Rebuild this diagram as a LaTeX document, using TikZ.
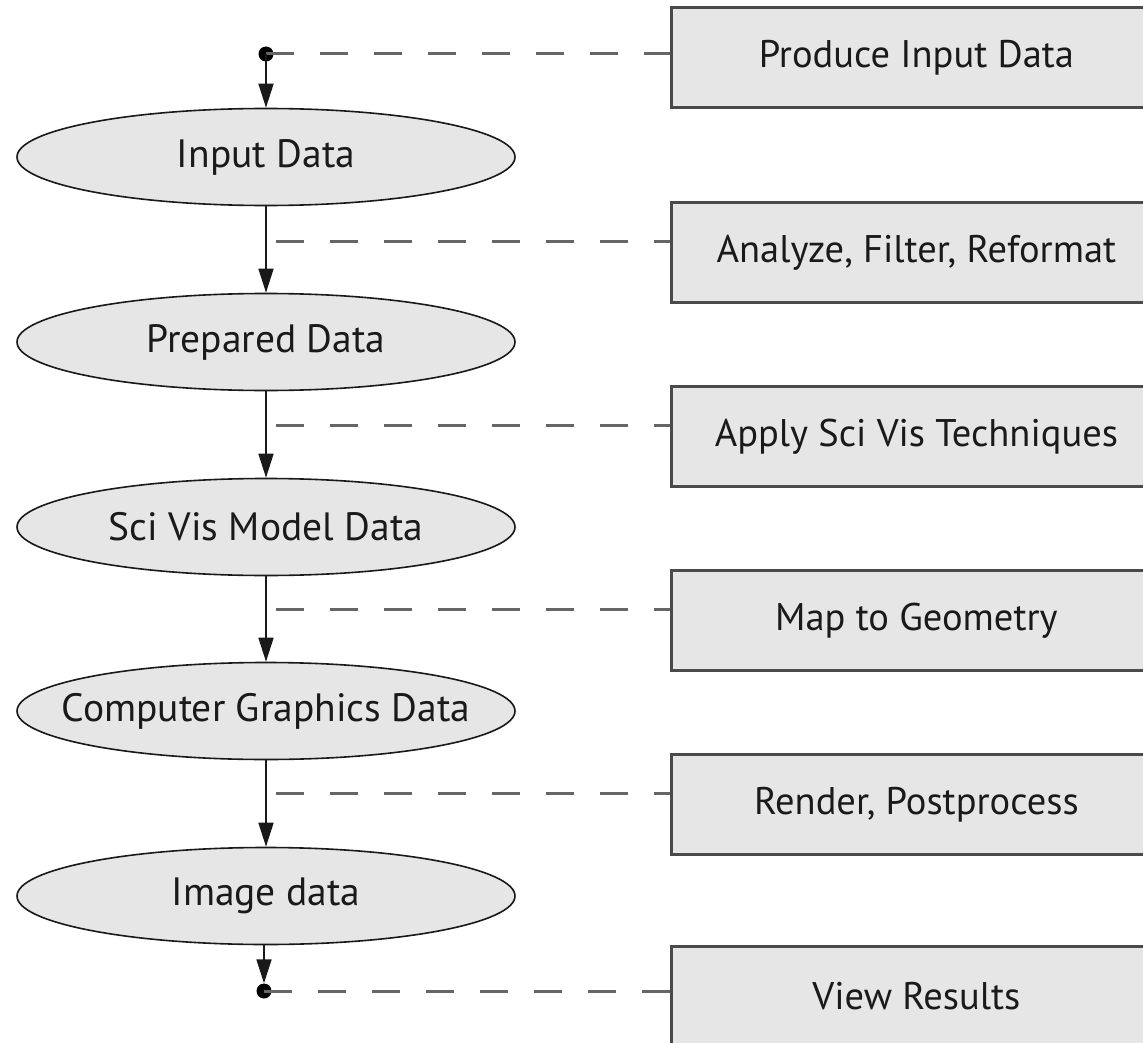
\documentclass[tikz,border=0pt]{standalone}
\usepackage{fontspec}
\setmainfont{PT Sans}
\usetikzlibrary{shapes.geometric,arrows.meta}
\definecolor{fillgray}{HTML}{E6E6E6}
\definecolor{boxline}{HTML}{4A4A4A}
\definecolor{dashcol}{HTML}{666666}
\definecolor{textcol}{HTML}{1A1A1A}
\newcommand{\ovaltext}[1]{\makebox[0pt][c]{#1}}
\newcommand{\boxtext}[1]{\makebox[470pt][c]{#1}\hspace{20pt}}
\begin{document}
\begin{tikzpicture}[x=1pt,y=-1pt,
  oval/.style={ellipse, draw=black!90, line width=1.6pt, fill=fillgray,
    minimum width=498pt, minimum height=97pt, inner sep=0pt,
    font=\fontsize{39.5}{42}\selectfont, text=textcol},
  stagebox/.style={rectangle, draw=boxline, line width=2.8pt, fill=fillgray,
    minimum width=490pt, minimum height=100pt, inner sep=0pt, anchor=west,
    font=\fontsize{38.5}{42}\selectfont, text=textcol},
  flow/.style={draw=black!90, line width=1.6pt,
    -{Triangle[length=24pt,width=15pt]}},
  dashlink/.style={draw=dashcol, line width=3pt, dash pattern=on 28pt off 26pt},
  dotn/.style={circle, fill=black, inner sep=0pt, minimum size=15pt}
]
\clip (0,0) rectangle (1143,1043);
\fill[white] (0,0) rectangle (1143,1043);

% boxes
\node[stagebox] (b1) at (670,57.5) {\boxtext{Produce Input Data}};
\node[stagebox] (b2) at (670,252.5) {\boxtext{Analyze, Filter, Reformat}};
\node[stagebox] (b3) at (670,436.5) {\boxtext{Apply Sci Vis Techniques}};
\node[stagebox] (b4) at (670,620.5) {\boxtext{Map to Geometry}};
\node[stagebox] (b5) at (670,804.5) {\boxtext{Render, Postprocess}};
\node[stagebox] (b6) at (670,996.5) {\boxtext{View Results}};

% ellipses
\node[oval] (e1) at (266,157) {\ovaltext{Input Data}};
\node[oval] (e2) at (266,342) {\ovaltext{Prepared Data}};
\node[oval] (e3) at (266,527) {\ovaltext{Sci Vis Model Data}};
\node[oval] (e4) at (266,711) {\ovaltext{Computer Graphics Data}};
\node[oval] (e5) at (266,896) {\ovaltext{Image data}};

% dots and junctions
\node[dotn] (d1) at (266,54) {};
\node[dotn] (d6) at (264,991) {};
\coordinate (c2) at (266,241);
\coordinate (c3) at (266,425);
\coordinate (c4) at (266,609);
\coordinate (c5) at (266,793);

% dashed links
\draw[dashlink] (d1.center) -- (d1 -| b1.west);
\draw[dashlink, dash phase=44pt] (c2) -- (c2 -| b2.west);
\draw[dashlink, dash phase=44pt] (c3) -- (c3 -| b3.west);
\draw[dashlink, dash phase=44pt] (c4) -- (c4 -| b4.west);
\draw[dashlink, dash phase=44pt] (c5) -- (c5 -| b5.west);
\draw[dashlink] (d6.center) -- (d6 -| b6.west);

% flow arrows
\draw[flow] (d1.center) -- (e1.north);
\draw[flow] (e1) -- (e2);
\draw[flow] (e2) -- (e3);
\draw[flow] (e3) -- (e4);
\draw[flow] (e4) -- (e5);
\draw[flow] (e5.south -| d6) -- (d6.north);
\end{tikzpicture}
\end{document}
